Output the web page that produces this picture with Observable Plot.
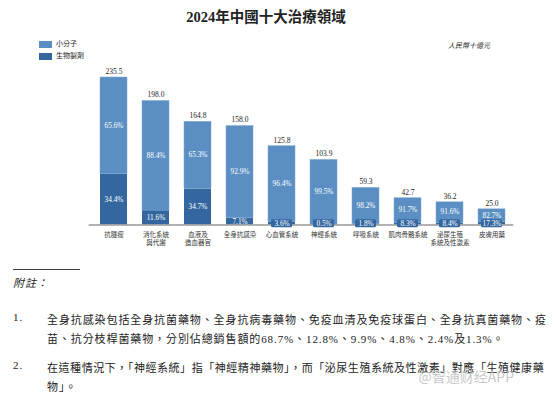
<!DOCTYPE html>
<html>
<head>
<meta charset="utf-8">
<script src="https://cdn.jsdelivr.net/npm/d3@7"></script>
<script src="https://cdn.jsdelivr.net/npm/@observablehq/plot@0.6"></script>
<style>
  html, body { margin: 0; padding: 0; background: #fff; }
  #wrap { position: relative; width: 554px; height: 399px; overflow: hidden;
          font-family: "Liberation Serif", "Noto Sans CJK TC", serif; color: #222; }
  .abs { position: absolute; white-space: nowrap; }
  #title { left: -11px; width: 554px; top: 5px; text-align: center; font-size: 14.5px; font-weight: bold;
           font-family: "Liberation Serif", "Noto Sans CJK TC", serif; color: #222; }
  #chart { left: 0; top: 30px; }
  .sw { width: 13px; height: 7px; display: inline-block; vertical-align: middle; margin-right: 4px; }
  .leg { font-size: 7px; left: 39px; line-height: 9px; }
  #unit { right: 64px; top: 40px; font-size: 7px; font-style: italic; }
  .note { font-size: 11px; color: #222; letter-spacing: 0.9px; }
  #rule { left: 13px; top: 269px; width: 67px; height: 0; border-top: 1px solid #444; }
  #wm { right: 40px; top: 366px; font-size: 14px; color: rgba(190,190,190,0.85);
        font-family: "Noto Sans CJK SC", sans-serif; }
</style>
</head>
<body>
<div id="wrap">
  <div id="title" class="abs">2024年中國十大治療領域</div>
  <div id="chart" class="abs"></div>
  <div class="abs leg" style="top:40px"><span class="sw" style="background:#5b8fc3"></span>小分子</div>
  <div class="abs leg" style="top:52px"><span class="sw" style="background:#3467a0"></span>生物製劑</div>
  <div id="unit" class="abs">人民幣十億元</div>
  <div id="rule" class="abs"></div>
  <div class="abs note" style="left:13px; top:274px; font-style:italic;">附註：</div>
  <div class="abs note" style="left:13px; top:311px;">1.</div>
  <div class="abs note" style="left:47px; top:311px;">全身抗感染包括全身抗菌藥物、全身抗病毒藥物、免疫血清及免疫球蛋白、全身抗真菌藥物、疫</div>
  <div class="abs note" style="left:47px; top:330px;">苗、抗分枝桿菌藥物，分別佔總銷售額的68.7%、12.8%、9.9%、4.8%、2.4%及1.3%。</div>
  <div class="abs note" style="left:13px; top:359px;">2.</div>
  <div class="abs note" style="left:47px; top:359px; letter-spacing:0.55px;">在這種情況下，「神經系統」指「神經精神藥物」，而「泌尿生殖系統及性激素」對應「生殖健康藥</div>
  <div class="abs note" style="left:47px; top:378px;">物」。</div>
  <div id="wm" class="abs">@智通财经APP</div>
</div>
<script>
const categories = ["抗腫瘤", "消化系統\n與代謝", "血液及\n造血器官", "全身抗感染", "心血管系統",
  "神經系統", "呼吸系統", "肌肉骨骼系統", "泌尿生殖\n系統及性激素", "皮膚用藥"];
const totals = [235.5, 198.0, 164.8, 158.0, 125.8, 103.9, 59.3, 42.7, 36.2, 25.0];
const smallPct = [65.6, 88.4, 65.3, 92.9, 96.4, 99.5, 98.2, 91.7, 91.6, 82.7];
const bioPct = [34.4, 11.6, 34.7, 7.1, 3.6, 0.5, 1.8, 8.3, 8.4, 17.3];

const colorSmall = "#5b8fc3";
const colorBio = "#3467a0";

const rows = categories.map((c, i) => {
  const bio = totals[i] * bioPct[i] / 100;
  return {cat: c, total: totals[i], bio, small: totals[i] - bio, sp: smallPct[i], bp: bioPct[i]};
});
const boxed = rows.filter(d => d.bio < 9);

const fontNum = "Liberation Serif, serif";

const chart = Plot.plot({
  width: 554,
  height: 225,
  marginLeft: 84.7,
  marginRight: 34.7,
  marginTop: 47,
  marginBottom: 30.5,
  style: {fontFamily: "Liberation Serif, Noto Sans CJK TC, serif", background: "#fff"},
  x: {domain: categories, paddingInner: 0.36, paddingOuter: 0.3, axis: null},
  y: {domain: [0, 235.5], axis: null},
  marks: [
    Plot.barY(rows, {x: "cat", y1: 0, y2: "bio", fill: colorBio}),
    Plot.barY(rows, {x: "cat", y1: "bio", y2: "total", fill: colorSmall, stroke: "#7fa7d2", strokeWidth: 0.5}),
    Plot.ruleY([0], {stroke: "#999", strokeWidth: 1.5, insetLeft: 4, insetRight: 6}),
    Plot.rect(boxed, {x: "cat", y1: -4.5, y2: 8.5, fill: colorBio, insetLeft: 3, insetRight: 3, rx: 1.5}),
    Plot.text(rows, {x: "cat", y: "total", text: d => d.total.toFixed(1), dy: -6, fontSize: 7.5, fill: "#222", fontFamily: fontNum}),
    Plot.text(rows, {x: "cat", y: d => d.bio + d.small / 2, text: d => d.sp.toFixed(1) + "%", dy: -0.6, fontSize: 7.3, fill: "#fff", fontFamily: fontNum}),
    Plot.text(rows, {x: "cat", y: d => Math.max(d.bio / 2, 2.0), text: d => d.bp.toFixed(1) + "%", fontSize: 7.3, fill: "#fff", fontFamily: fontNum}),
    Plot.axisX({tickSize: 0, tickPadding: 6, fontSize: 6.5, lineHeight: 1.3, label: null, fill: "#333"})
  ]
});
document.getElementById("chart").appendChild(chart);
</script>
</body>
</html>
